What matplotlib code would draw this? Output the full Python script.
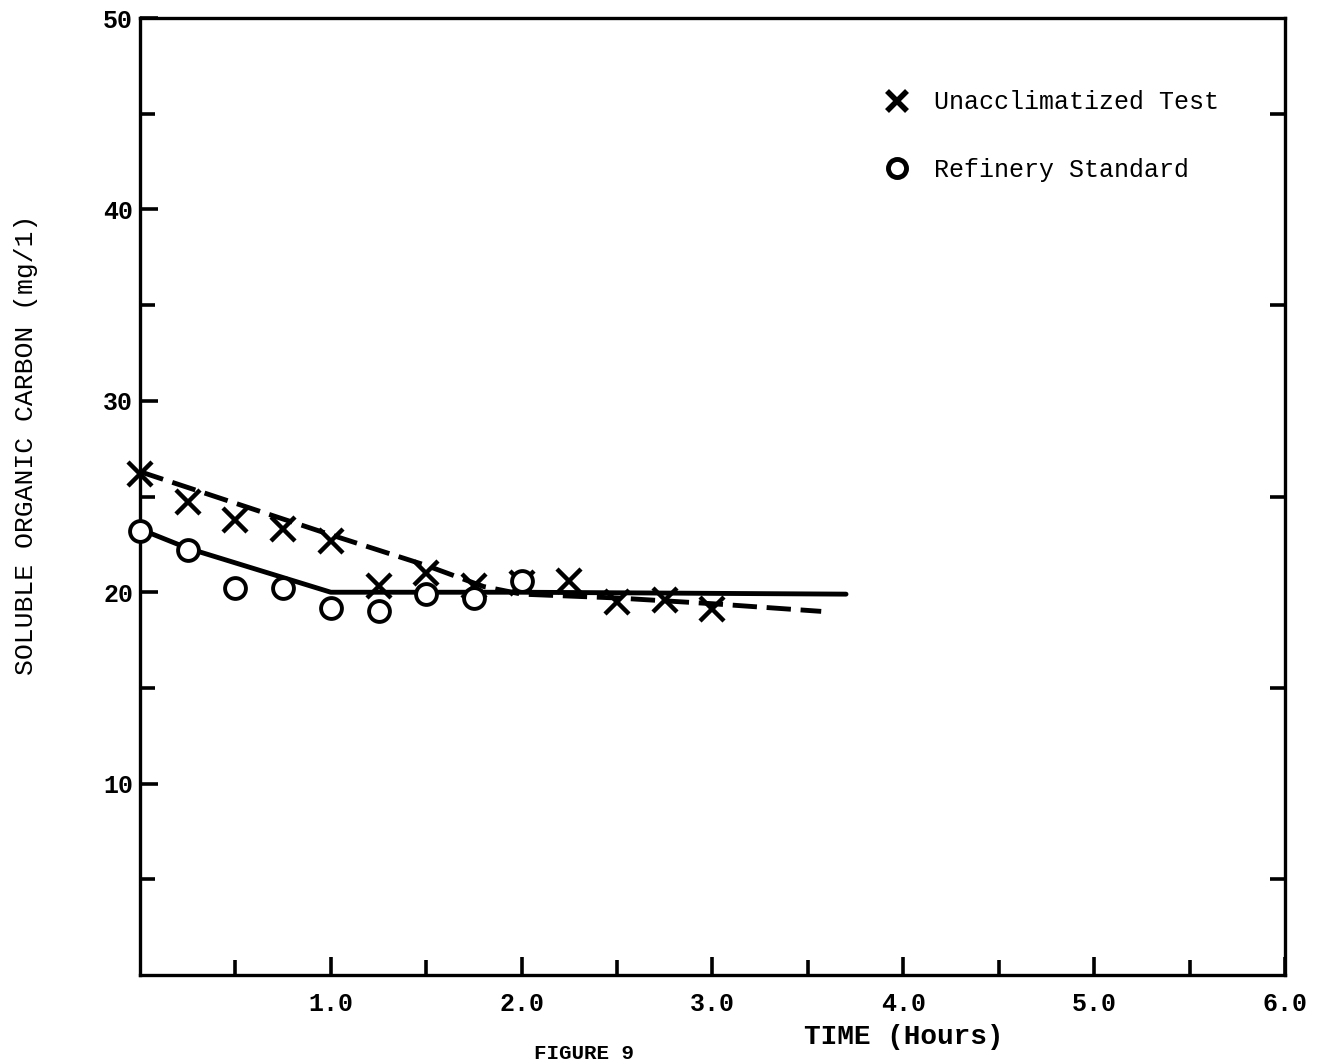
import numpy as np
import matplotlib.pyplot as plt
from matplotlib.lines import Line2D

# measured points (hours, mg/l)
time_x = [0.0, 0.25, 0.5, 0.75, 1.0, 1.25, 1.5, 1.75, 2.0, 2.25, 2.5, 2.75, 3.0]
unacclimatized = [26.2, 24.7, 23.8, 23.3, 22.7, 20.3, 21.0, 20.3, 20.5, 20.6, 19.5, 19.6, 19.1]

time_o = [0.0, 0.25, 0.5, 0.75, 1.0, 1.25, 1.5, 1.75, 2.0]
refinery = [23.2, 22.2, 20.2, 20.2, 19.2, 19.0, 19.9, 19.7, 20.6]

# hand-drawn fitted curves
fit_x_t = [0.0, 1.0, 1.5, 1.8, 2.0, 2.5, 3.0, 3.57]
fit_x_v = [26.3, 23.0, 21.4, 20.3, 19.9, 19.7, 19.4, 19.0]
fit_o_t = [0.0, 0.25, 1.0, 2.0, 3.7]
fit_o_v = [23.3, 22.3, 20.0, 20.0, 19.9]

xticks = [1.0, 2.0, 3.0, 4.0, 5.0, 6.0]
yticks = [10, 20, 30, 40, 50]

mono = 'Liberation Mono'

fig = plt.figure(figsize=(13.18, 10.62), dpi=100)
ax = fig.add_axes([0.1062, 0.0819, 0.8687, 0.9011])

# fitted lines
ax.plot(fit_x_t, fit_x_v, color='black', lw=3.5, ls=(0, (5, 2)), zorder=2)
ax.plot(fit_o_t, fit_o_v, color='black', lw=3.5, solid_capstyle='round', zorder=2)

# data points (not clipped at the left spine)
ax.plot(time_x, unacclimatized, ls='none', marker='x', ms=17, mew=3.2,
        color='black', zorder=3, clip_on=False)
ax.plot(time_o, refinery, ls='none', marker='o', ms=15, mew=2.8,
        mfc='white', mec='black', zorder=3, clip_on=False)

ax.set_xlim(0, 6.0)
ax.set_ylim(0, 50)

for s in ax.spines.values():
    s.set_linewidth(2.4)

ax.set_xticks(xticks)
ax.set_xticks(np.arange(0.5, 6.0, 1.0), minor=True)
ax.set_yticks(yticks)
ax.set_yticks(np.arange(5, 50, 10), minor=True)
ax.tick_params(which='both', direction='in', width=2.6, top=False, right=True)
ax.tick_params(which='major', length=13, pad=12)
ax.tick_params(which='minor', length=11)
ax.tick_params(axis='y', which='major', right=False, pad=5)
ax.set_xticklabels(['%.1f' % t for t in xticks], fontsize=18,
                   fontweight='bold', family=mono)
ax.set_yticklabels([str(t) for t in yticks], fontsize=18,
                   fontweight='bold', family=mono)

ax.set_ylabel('SOLUBLE ORGANIC CARBON (mg/1)', fontsize=19, family=mono)
ax.yaxis.set_label_coords(-0.0996, 0.554)
ax.yaxis.label.set_va('center')
ax.text(4.0, -3.24, 'TIME (Hours)', fontsize=20, family=mono,
        fontweight='bold', ha='center', va='center', clip_on=False)
fig.text(0.443, 0.003, 'FIGURE 9', fontsize=15, family=mono,
         fontweight='bold', ha='center', va='baseline')

handles = [Line2D([], [], ls='none', marker='x', ms=14, mew=4, color='black'),
           Line2D([], [], ls='none', marker='o', ms=13, mew=3.5,
                  mfc='white', mec='black')]
ax.legend(handles, ['Unacclimatized Test', 'Refinery Standard'],
          loc='upper left', bbox_to_anchor=(0.631, 0.948), frameon=False,
          prop={'family': mono, 'size': 18}, handlelength=1.0,
          handletextpad=0.95, labelspacing=1.75)

fig.savefig('out.png', dpi=100)
